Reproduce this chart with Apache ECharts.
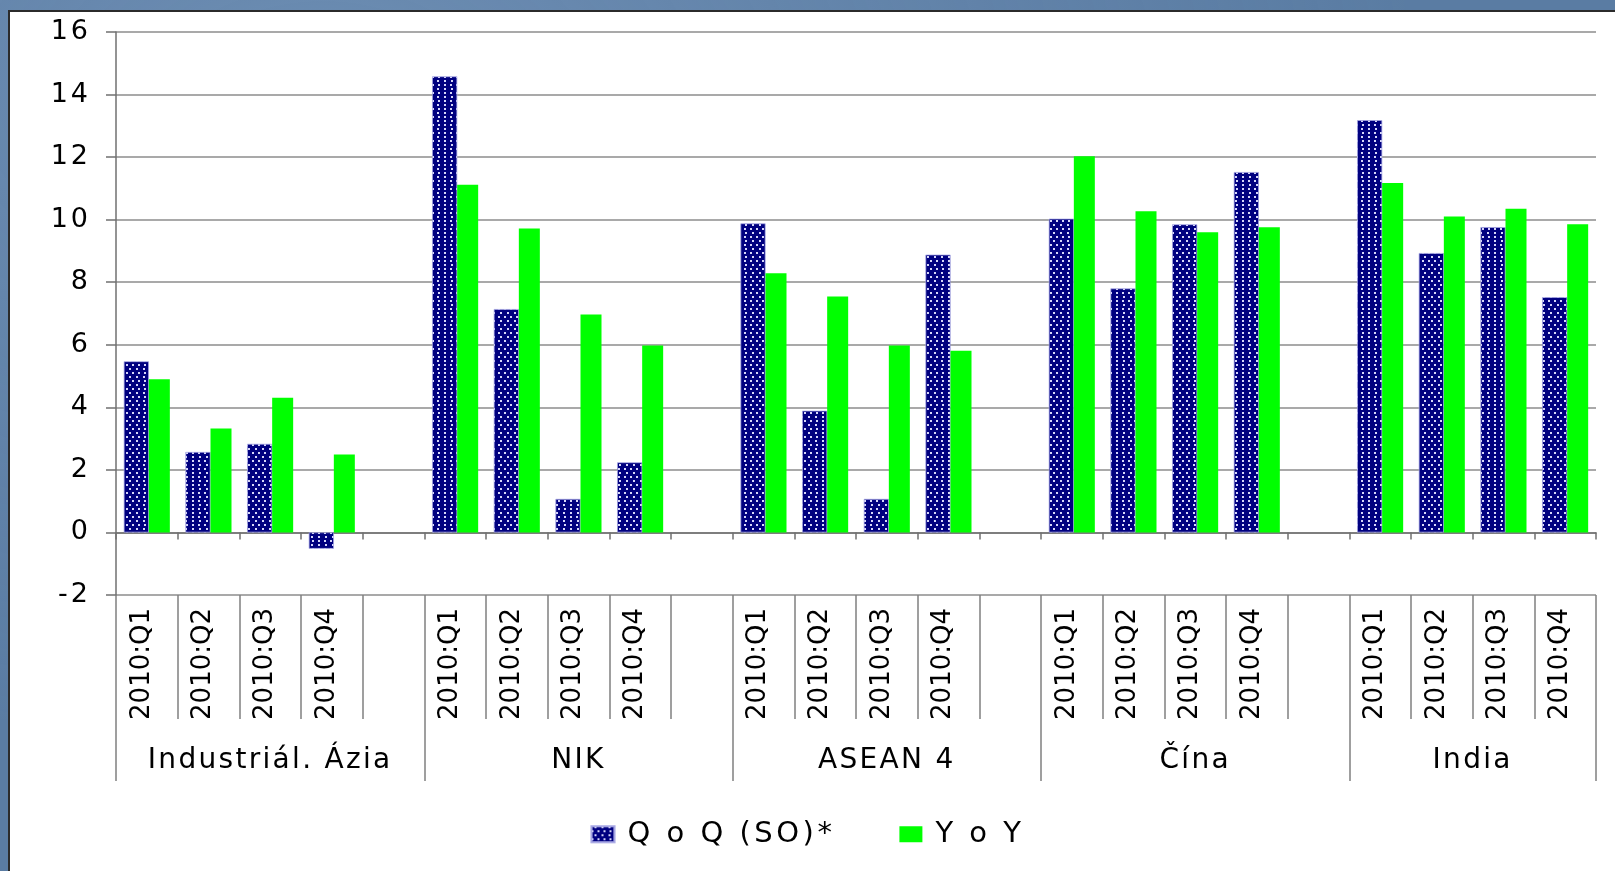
<!DOCTYPE html>
<html>
<head>
<meta charset="utf-8">
<script src="https://cdn.jsdelivr.net/npm/echarts@6/dist/echarts.min.js"></script>
<style>
  html, body { margin: 0; padding: 0; width: 1615px; height: 871px; overflow: hidden; }
  body {
    background: #5a7ca3;
    background-image:
      radial-gradient(ellipse at 20% 10%, rgba(140,170,205,0.35), rgba(0,0,0,0) 60%),
      radial-gradient(ellipse at 80% 90%, rgba(60,90,130,0.35), rgba(0,0,0,0) 60%);
  }
  #panel {
    position: absolute; left: 8px; top: 10px; width: 1640px; height: 900px;
    background: #ffffff; border-left: 2px solid #2b2b2b; border-top: 2px solid #2b2b2b;
  }
  #chart { position: absolute; left: 0; top: 0; width: 1615px; height: 871px; }
</style>
</head>
<body>
<div id="panel"></div>
<div id="chart"></div>
<script>
// ---- data ----
const groups = ['Industriál. Ázia', 'NIK', 'ASEAN 4', 'Čína', 'India'];
const quarters = ['2010:Q1', '2010:Q2', '2010:Q3', '2010:Q4'];
const seriesNames = ['Q o Q (SO)*', 'Y o Y'];
const yTicks = { min: -2, max: 16, step: 2 };

const qoqIndAzia = [5.47, 2.57, 2.83, -0.52];
const qoqNIK     = [14.58, 7.14, 1.07, 2.24];
const qoqASEAN   = [9.88, 3.89, 1.07, 8.88];
const qoqCina    = [10.03, 7.80, 9.85, 11.52];
const qoqIndia   = [13.18, 8.93, 9.76, 7.52];

const yoyIndAzia = [4.90, 3.32, 4.31, 2.49];
const yoyNIK     = [11.12, 9.72, 6.97, 5.98];
const yoyASEAN   = [8.29, 7.54, 5.98, 5.81];
const yoyCina    = [12.03, 10.27, 9.60, 9.76];
const yoyIndia   = [11.17, 10.10, 10.35, 9.85];

const qoqByGroup = [qoqIndAzia, qoqNIK, qoqASEAN, qoqCina, qoqIndia];
const yoyByGroup = [yoyIndAzia, yoyNIK, yoyASEAN, yoyCina, yoyIndia];

// ---- letter spacing (text in the reference is letter-spaced) ----
(function () {
  const P = CanvasRenderingContext2D.prototype;
  if (!('letterSpacing' in P)) return;
  const map = { 26: '0px', 27: '3px', 28: '2.3px', 29: '3.5px' };
  const pick = (font) => {
    const m = /(\d+(?:\.\d+)?)px/.exec(font || '');
    if (!m) return '0px';
    return map[Math.round(parseFloat(m[1]))] || '0px';
  };
  const f = P.fillText, mt = P.measureText;
  P.fillText = function (t, x, y, w) {
    this.letterSpacing = pick(this.font);
    return w === undefined ? f.call(this, t, x, y) : f.call(this, t, x, y, w);
  };
  P.measureText = function (t) {
    this.letterSpacing = pick(this.font);
    return mt.call(this, t);
  };
})();

// ---- build category structure ----
const categories = [];
const qoqData = [];
const yoyData = [];
const groupStart = [];
const groupSize = [];
groups.forEach((g, gi) => {
  groupStart.push(categories.length);
  quarters.forEach((q, qi) => {
    categories.push(q);
    qoqData.push(qoqByGroup[gi][qi]);
    yoyData.push(yoyByGroup[gi][qi]);
  });
  if (gi < groups.length - 1) {
    categories.push('');
    qoqData.push(null);
    yoyData.push(null);
  }
  groupSize.push(categories.length - groupStart[gi]);
});
// half-slot positions for the group level axis
const halfCount = categories.length * 2 + 1;
const halfLabels = new Array(halfCount).fill('');
const halfBounds = new Set();
groups.forEach((g, gi) => {
  halfLabels[2 * groupStart[gi] + groupSize[gi]] = g;
  halfBounds.add(2 * groupStart[gi]);
  halfBounds.add(2 * (groupStart[gi] + groupSize[gi]));
});

const FONT = "'DejaVu Sans', 'Liberation Sans', Arial, sans-serif";
const chart = echarts.init(document.getElementById('chart'), null, { renderer: 'canvas' });

chart.setOption({
  animation: false,
  backgroundColor: 'transparent',
  textStyle: { fontFamily: FONT, color: '#000' },
  grid: { left: 116, right: 19, top: 32, bottom: 276, containLabel: false, outerBoundsMode: 'none' },
  legend: {
    data: seriesNames,
    left: 'center',
    top: 818,
    padding: 0,
    icon: 'rect',
    itemWidth: 23,
    itemHeight: 16,
    itemGap: 64,
    textStyle: { fontFamily: FONT, fontSize: 29, color: '#000', padding: [0, 0, 0, 8] }
  },
  xAxis: [
    {
      type: 'category',
      data: categories,
      boundaryGap: true,
      axisLine: { show: true, onZero: true, lineStyle: { color: '#707070', width: 1.5 } },
      axisTick: { show: true, interval: 0, length: 7, lineStyle: { color: '#707070', width: 1.5 } },
      axisLabel: { show: false },
      splitLine: { show: false }
    },
    {
      type: 'category',
      data: categories,
      position: 'bottom',
      boundaryGap: true,
      axisLine: { show: false, onZero: false },
      axisTick: { show: true, interval: 0, length: 124, lineStyle: { color: '#808080', width: 1.5 } },
      axisLabel: {
        show: true, interval: 0, rotate: 90, margin: 13, fontSize: 26, fontFamily: FONT, color: '#000',
        verticalAlign: 'bottom', lineHeight: 10
      },
      splitLine: { show: false }
    },
    {
      type: 'category',
      data: halfLabels,
      position: 'bottom',
      boundaryGap: false,
      axisLine: { show: false, onZero: false },
      axisTick: {
        show: true, length: 186,
        interval: (idx) => halfBounds.has(idx),
        lineStyle: { color: '#808080', width: 1.5 }
      },
      axisLabel: { show: true, interval: 0, margin: 151, fontSize: 28, fontFamily: FONT, color: '#000' },
      splitLine: { show: false }
    }
  ],
  yAxis: {
    type: 'value',
    min: yTicks.min,
    max: yTicks.max,
    interval: yTicks.step,
    axisLine: { show: true, lineStyle: { color: '#707070', width: 1.5 } },
    axisTick: { show: true, length: 10, lineStyle: { color: '#707070', width: 1.5 } },
    axisLabel: { fontSize: 27, fontFamily: FONT, color: '#000', margin: 25 },
    splitLine: { show: true, lineStyle: { color: '#8c8c8c', width: 1.5 } }
  },
  series: [
    {
      name: seriesNames[0],
      type: 'bar',
      xAxisIndex: 0,
      data: qoqData,
      barWidth: 25,
      barGap: '0%',
      itemStyle: {
        color: '#000080',
        borderColor: 'rgba(170,170,230,0.7)',
        borderWidth: 0.6,
        decal: {
          symbol: 'rect',
          symbolSize: 1,
          color: 'rgba(225,225,255,0.95)',
          dashArrayX: [[1.2, 4], [0, 2.6, 1.2, 1.4]],
          dashArrayY: [1.2, 1.6],
          rotation: 0
        }
      }
    },
    {
      name: seriesNames[1],
      type: 'bar',
      xAxisIndex: 0,
      data: yoyData,
      barWidth: 21,
      barGap: '0%',
      itemStyle: { color: '#00ff00' }
    }
  ]
});
</script>
</body>
</html>
